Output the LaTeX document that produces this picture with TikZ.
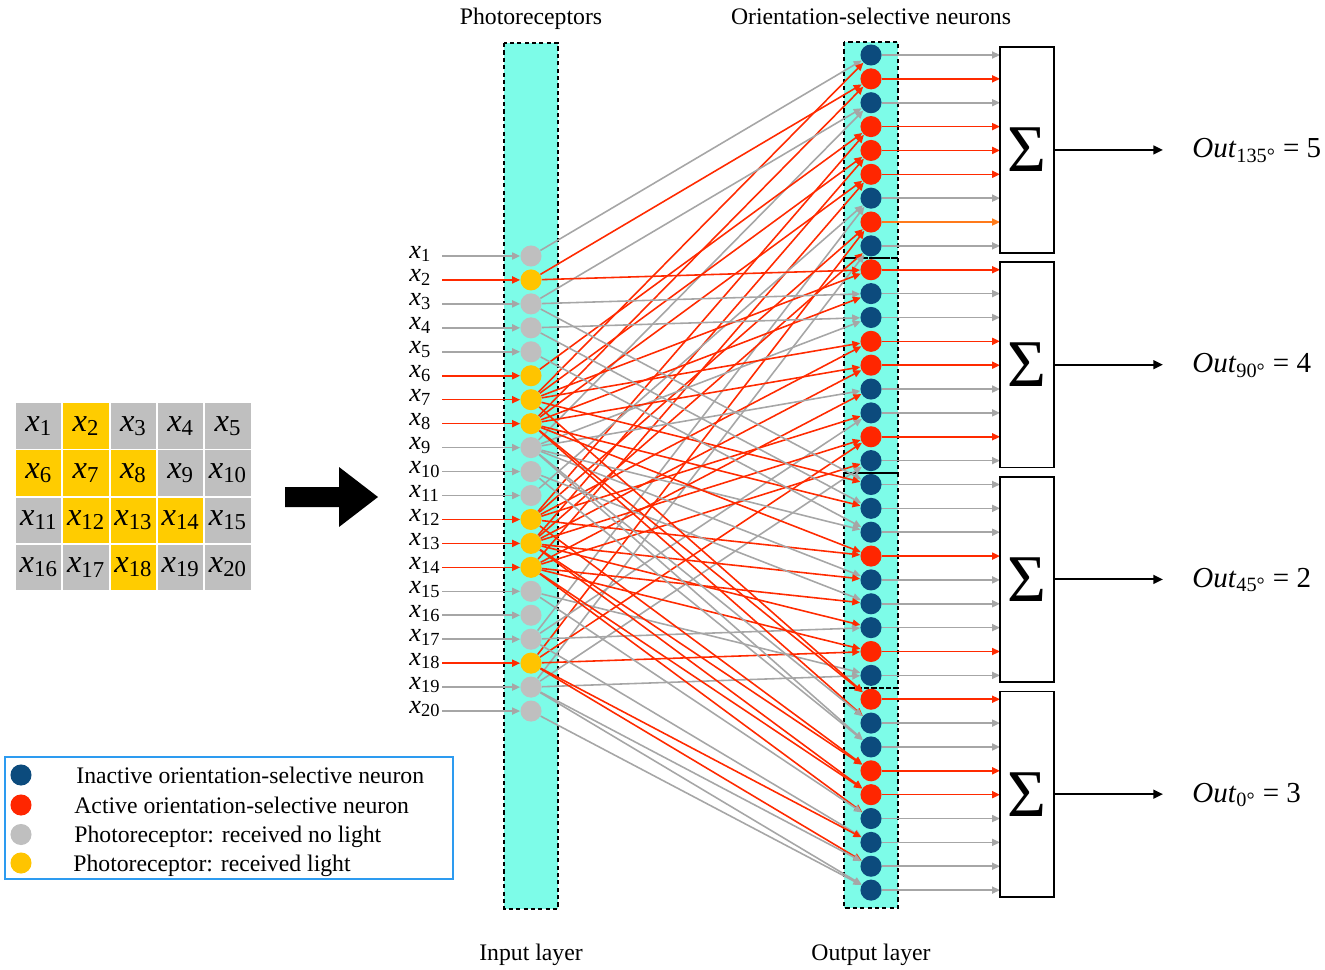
\documentclass[tikz,border=0pt]{standalone}
\usepackage{fontspec}
\setmainfont{Liberation Serif}
\usepackage{xcolor}
\usetikzlibrary{arrows.meta}

\definecolor{layercyan}{HTML}{7DFCE8}
\definecolor{pgray}{HTML}{BFBFBF}
\definecolor{pyellow}{HTML}{FFC400}
\definecolor{cellyellow}{HTML}{FFCC00}
\definecolor{nblue}{HTML}{0C4B7D}
\definecolor{nred}{HTML}{FF2600}
\definecolor{wred}{HTML}{FF2A00}
\definecolor{wgray}{HTML}{A6A6A6}
\definecolor{worange}{HTML}{FF7A1A}
\definecolor{legblue}{HTML}{2D9BF0}

\tikzset{
  unit/.style={circle, fill=#1, minimum size=12pt, inner sep=0pt},
  wire/.style={draw=#1, line width=0.9pt, -{Triangle[length=4.5pt,width=4pt]}},
  outarrow/.style={draw, line width=1.1pt, -{Triangle[length=5.5pt,width=5pt]}},
  dashbox/.style={draw, line width=1.4pt, dash pattern=on 2.4pt off 1.8pt},
  cell/.style={rectangle, fill=#1, minimum size=25.8pt, inner sep=0pt, font=\fontsize{18.5}{20}\selectfont},
  sumbox/.style={draw, line width=1pt, fill=white, minimum width=30.6pt, minimum height=117pt, inner sep=0pt, font=\fontsize{38}{40}\selectfont},
  caption/.style={font=\fontsize{13.5}{16}\selectfont},
  inlabel/.style={anchor=base west, inner sep=0pt, font=\fontsize{15}{16}\selectfont},
  outlabel/.style={anchor=base west, inner sep=0pt, font=\fontsize{16.5}{20}\selectfont},
}

% which photoreceptors receive light
\def\lit{{0,1,0,0,0,1,1,1,0,0,0,1,1,1,0,0,0,1,0,0}}

\begin{document}
\begin{tikzpicture}[x=0.02cm, y=-0.02cm]
  \useasboundingbox (0,0) rectangle (1325,970);

  % input image
  \foreach \i in {1,...,20} {
    \pgfmathtruncatemacro\grow{(\i-1)/5}
    \pgfmathtruncatemacro\gcol{mod(\i-1,5)}
    \pgfmathtruncatemacro\lita{\lit[\i-1]}
    \ifnum\lita=1 \def\ccol{cellyellow}\else \def\ccol{pgray}\fi
    \node[cell=\ccol] (g\i) at ({38.75+47.3*\gcol},{426+47.1*\grow}) {\textit{x}\textsubscript{\i}};
  }
  \fill (285,487) -- (339,487) -- (339,467) -- (378,497) -- (339,527) -- (339,507) -- (285,507) -- cycle;

  % layers
  \fill[layercyan] (504,43) rectangle (558,909);
  \draw[dashbox] (504,43) rectangle (558,909);
  \fill[layercyan] (844,42) rectangle (898,908);
  \draw[dashbox] (844,42) rectangle (898,258);
  \draw[dashbox] (844,258) rectangle (898,473);
  \draw[dashbox] (844,473) rectangle (898,688);
  \draw[dashbox] (844,688) rectangle (898,908);

  \node[caption, anchor=base] (ttlin) at (531,25) {Photoreceptors};
  \node[caption, anchor=base] (ttlout) at (871,25) {Orientation-selective neurons};
  \node[caption, anchor=base] (capin) at (531,960) {Input layer};
  \node[caption, anchor=base] (capout) at (871,960) {Output layer};

  % photoreceptors
  \foreach \i in {1,...,20} {
    \pgfmathtruncatemacro\lita{\lit[\i-1]}
    \ifnum\lita=1 \def\pcol{pyellow}\def\wcol{wred}\else \def\pcol{pgray}\def\wcol{wgray}\fi
    \node[unit=\pcol] (x\i) at (531,{256+(\i-1)*23.95}) {};
    \node[inlabel] (lx\i) at (409,{258+(\i-1)*23.95}) {\textit{x}\textsubscript{\i}};
    \coordinate (s\i) at (442,{256+(\i-1)*23.95});
    \draw[wire=\wcol] (s\i) -- (x\i);
  }

  % orientation-selective neurons: number / first input / second input
  \foreach \k/\a/\b in {1/1/7, 2/2/8, 3/3/9, 4/6/12, 5/7/13, 6/8/14, 7/11/17, 8/12/18, 9/13/19,
                        10/2/7, 11/3/8, 12/4/9, 13/7/12, 14/8/13, 15/9/14, 16/12/17, 17/13/18, 18/14/19,
                        19/3/7, 20/4/8, 21/5/9, 22/8/12, 23/9/13, 24/10/14, 25/13/17, 26/14/18, 27/15/19,
                        28/7/8, 29/8/9, 30/9/10, 31/12/13, 32/13/14, 33/14/15, 34/17/18, 35/18/19, 36/19/20} {
    \pgfmathtruncatemacro\la{\lit[\a-1]}
    \pgfmathtruncatemacro\lb{\lit[\b-1]}
    \pgfmathtruncatemacro\act{\la*\lb}
    \ifnum\act=1 \def\ncol{nred}\def\ocol{wred}\else \def\ncol{nblue}\def\ocol{wgray}\fi
    \ifnum\k=8 \def\ocol{worange}\fi
    \ifnum\la=1 \def\acol{wred}\else \def\acol{wgray}\fi
    \ifnum\lb=1 \def\bcol{wred}\else \def\bcol{wgray}\fi
    \node[unit=\ncol] (n\k) at (871,{55+(\k-1)*23.86}) {};
    \coordinate (e\k) at (1000,{55+(\k-1)*23.86});
    \draw[wire=\acol] (x\a) -- (n\k);
    \draw[wire=\bcol] (x\b) -- (n\k);
    \draw[wire=\ocol] (n\k) -- (e\k);
  }

  % summation
  \foreach \g/\ang/\val in {1/135/5, 2/90/4, 3/45/2, 4/0/3} {
    \pgfmathsetmacro\yc{55+(9*\g-5)*23.86-0.5}
    \node[sumbox] (sum\g) at (1027,\yc) {Σ};
    \coordinate (o\g) at (1163,\yc);
    \draw[outarrow] (sum\g.east) -- (o\g);
    \node[outlabel] (out\g) at (1192,\yc+8) {\textit{Out}\textsubscript{\ang°} = \val};
  }

  % legend
  \draw[legblue, line width=1.1pt] (5,757) rectangle (453,879);
  \node[unit=nblue] (leg1) at (21,775) {};
  \node[unit=nred] (leg2) at (21,805) {};
  \node[unit=pgray] (leg3) at (21,834.5) {};
  \node[unit=pyellow] (leg4) at (21,863) {};
  \node[caption, anchor=base west, inner sep=0pt] (legt1) at (76,783) {Inactive orientation-selective neuron};
  \node[caption, anchor=base west, inner sep=0pt] (legt2) at (74,813) {Active orientation-selective neuron};
  \node[caption, anchor=base west, inner sep=0pt] (legt3) at (74,842.5) {Photoreceptor: received no light};
  \node[caption, anchor=base west, inner sep=0pt] (legt4) at (73,871) {Photoreceptor: received light};
\end{tikzpicture}
\end{document}
